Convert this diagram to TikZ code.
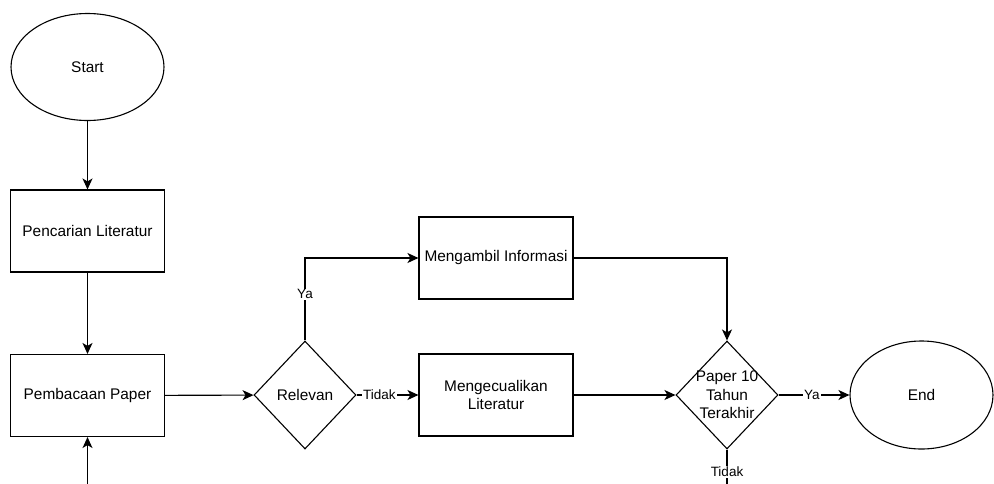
\documentclass[tikz,border=0pt]{standalone}
\usepackage{fontspec}
\setmainfont{Liberation Sans}
\usetikzlibrary{shapes.geometric,arrows.meta}
\begin{document}
\begin{tikzpicture}[x=1pt,y=-1pt,
  every node/.style={font=\fontsize{15.4}{18.5}\selectfont},
  process/.style={draw, rectangle, minimum width=154pt, minimum height=82pt,
    inner sep=0pt, align=center, line width=1.1pt},
  terminal/.style={draw, ellipse, inner sep=0pt, line width=1.1pt},
  decision/.style={draw, diamond, minimum width=102pt, minimum height=108pt,
    inner sep=0pt, line width=1.1pt, align=center},
  flow/.style={-{Stealth[length=11pt,width=10pt,inset=3pt]}, line width=1.1pt},
  edgelabel/.style={fill=white, inner sep=1pt, font=\fontsize{13.5}{16}\selectfont}]
\useasboundingbox (0,0) rectangle (994,483);
\clip (0,0) rectangle (994,483);

% shapes
\node[terminal, minimum width=153pt, minimum height=107pt] (start) at (87.5,67) {Start};
\node[process] (search) at (87.5,231) {Pencarian Literatur};
\node[process] (read) at (87.5,395.5) {Pembacaan Paper};
\node[decision] (rel) at (305,395) {Relevan};
\node[process] (take) at (496,258) {Mengambil Informasi};
\node[process] (excl) at (496,395) {Mengecualikan\\Literatur};
\node[decision] (year) at (727,395) {};
\node[align=center] (yeartext) at (year.center) {Paper 10\\Tahun\\Terakhir};
\node[terminal, minimum width=143pt, minimum height=108pt] (end) at (921.5,395) {End};
\coordinate (loopin) at (87.5,495);
\coordinate (tidakout) at (727,495);

% connectors
\draw[flow] (start) -- (search);
\draw[flow] (search) -- (read);
\draw[flow] (loopin) -- (read);
\draw[flow] (read) -- (rel);
\draw[flow] (rel.north) |- node[edgelabel, pos=0.28]{Ya} (take.west);
\draw[flow] (rel) -- node[edgelabel, pos=0.37]{Tidak} (excl);
\draw[flow] (take.east) -| (year.north);
\draw[flow] (excl) -- (year);
\draw[flow] (year) -- node[edgelabel, pos=0.47]{Ya} (end);
\draw[line width=1.1pt] (year.south) -- node[edgelabel, pos=0.49]{Tidak} (tidakout);
\end{tikzpicture}
\end{document}
